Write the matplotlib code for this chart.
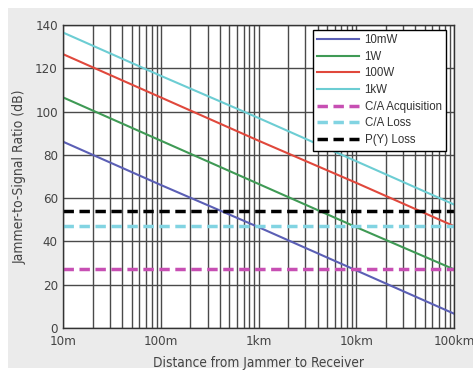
import matplotlib
matplotlib.use("Agg")
import matplotlib.pyplot as plt
from matplotlib.patches import Rectangle
from matplotlib.font_manager import FontProperties
from matplotlib.ticker import FixedLocator, LogLocator, NullFormatter

# Data (distance in meters, J/S in dB)
distance_m = [10, 100, 1000, 10000, 100000]
tick_labels = ["10m", "100m", "1km", "10km", "100km"]
js_10mW = [86, 66, 46.5, 26.5, 6.5]
js_1W = [106.5, 86.5, 66.5, 46.5, 27]
js_100W = [126.5, 106.5, 86.5, 67, 47]
js_1kW = [136.5, 116.5, 97, 77, 57]
ca_acquisition = 27
ca_loss = 47
py_loss = 54

plt.rcParams['font.family'] = ['DejaVu Sans']
plt.rcParams['font.stretch'] = 'condensed'

fig = plt.figure(figsize=(4.73, 3.75), dpi=100, facecolor='white')
fig.patches.append(Rectangle((8/473, 7/375), 1 - 8/473, 1 - 15/375,
                             transform=fig.transFigure, facecolor='#ebebeb',
                             edgecolor='none', zorder=-10))
ax = fig.add_axes([0.134, 0.126, 0.826, 0.807])
ax.set_facecolor('white')

ax.set_xscale('log')
ax.set_xlim(10, 100000)
ax.set_ylim(0, 140)

ax.plot(distance_m, js_10mW, color='#5b5fb5', lw=1.5, label='10mW')
ax.plot(distance_m, js_1W, color='#3f9a55', lw=1.5, label='1W')
ax.plot(distance_m, js_100W, color='#e0483c', lw=1.5, label='100W')
ax.plot(distance_m, js_1kW, color='#6ccdd3', lw=1.5, label='1kW')
dash = (0, (3, 1.6))
ax.axhline(ca_acquisition, color='#c74fb3', lw=2.5, ls=dash, label='C/A Acquisition')
ax.axhline(ca_loss, color='#82d4e2', lw=2.5, ls=dash, label='C/A Loss')
ax.axhline(py_loss, color='black', lw=2.5, ls=dash, label='P(Y) Loss')

ax.xaxis.set_major_locator(FixedLocator(distance_m))
ax.set_xticklabels(tick_labels)
ax.xaxis.set_minor_locator(LogLocator(base=10, subs=range(2, 10), numticks=50))
ax.xaxis.set_minor_formatter(NullFormatter())
ax.set_yticks(range(0, 141, 20))

ax.grid(True, which='both', axis='x', color='#4a4a4a', lw=1.0)
ax.grid(True, which='major', axis='y', color='#4a4a4a', lw=1.0)
ax.set_axisbelow(True)
ax.tick_params(which='both', length=0, labelsize=9.5, colors='#444444')
ax.tick_params(axis='x', pad=5)
ax.tick_params(axis='y', pad=4)
for s in ax.spines.values():
    s.set_color('#333333')
    s.set_linewidth(1.0)

ax.set_xlabel('Distance from Jammer to Receiver', fontsize=9.8, color='#444444', labelpad=6)
ax.set_ylabel('Jammer-to-Signal Ratio (dB)', fontsize=10, color='#444444', labelpad=6)

legend_font = FontProperties(family=['Liberation Sans', 'DejaVu Sans'],
                             stretch='normal', size=8.3)
leg = ax.legend(loc='upper right', bbox_to_anchor=(0.98, 0.985),
                frameon=True, fancybox=False, edgecolor='black', framealpha=1,
                handlelength=3.6, borderpad=0.4, labelspacing=0.4, handletextpad=0.5,
                borderaxespad=0.0, prop=legend_font)
leg.get_frame().set_linewidth(1.0)
for t in leg.get_texts():
    t.set_color('#333333')

fig.savefig('out.png', dpi=100, facecolor=fig.get_facecolor())
